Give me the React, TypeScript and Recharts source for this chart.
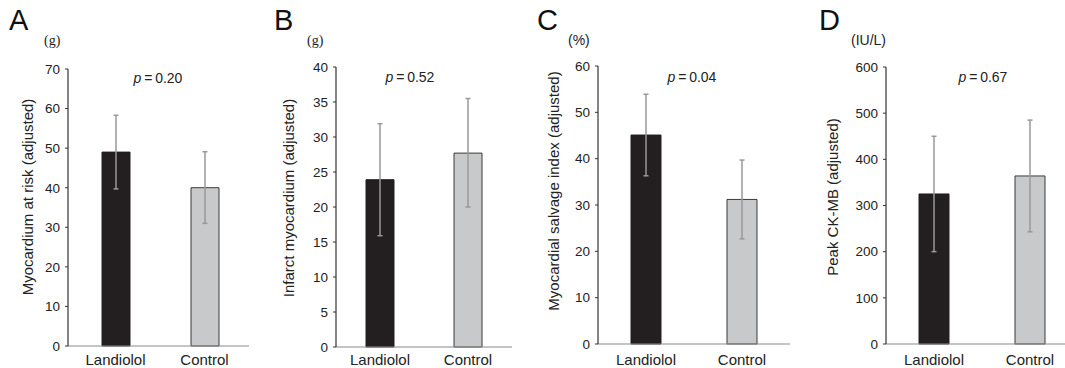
import React from 'react';
import { BarChart, Bar, XAxis, YAxis, ErrorBar, Cell } from 'recharts';

const groups = ['Landiolol', 'Control'];

const riskMean = [49.0, 40.0];
const riskLow = [39.7, 31.0];
const riskHigh = [58.3, 49.1];

const infarctMean = [23.9, 27.7];
const infarctLow = [15.9, 20.0];
const infarctHigh = [31.9, 35.5];

const salvageMean = [45.1, 31.2];
const salvageLow = [36.3, 22.7];
const salvageHigh = [53.9, 39.7];

const ckMean = [325, 364];
const ckLow = [200, 243];
const ckHigh = [450, 485];

const riskTicks = [0, 10, 20, 30, 40, 50, 60, 70];
const infarctTicks = [0, 5, 10, 15, 20, 25, 30, 35, 40];
const salvageTicks = [0, 10, 20, 30, 40, 50, 60];
const ckTicks = [0, 100, 200, 300, 400, 500, 600];

const panelLetters = ['A', 'B', 'C', 'D'];
const units = ['(g)', '(g)', '(%)', '(IU/L)'];
const pValues = ['0.20', '0.52', '0.04', '0.67'];
const yTitles = [
  'Myocardium at risk (adjusted)',
  'Infarct myocardium (adjusted)',
  'Myocardial salvage index (adjusted)',
  'Peak CK-MB (adjusted)',
];

const build = (mean: number[], low: number[], high: number[]) =>
  groups.map((name, i) => ({
    name,
    value: mean[i],
    err: [mean[i] - low[i], high[i] - mean[i]],
  }));

const datasets = [
  build(riskMean, riskLow, riskHigh),
  build(infarctMean, infarctLow, infarctHigh),
  build(salvageMean, salvageLow, salvageHigh),
  build(ckMean, ckLow, ckHigh),
];
const tickSets = [riskTicks, infarctTicks, salvageTicks, ckTicks];

const FONT = '"Liberation Sans", Arial, Helvetica, sans-serif';

// layout (style only)
const layouts = [
  { left: 0, width: 249, yw: 68, top: 69, xh: 22, barSize: 28, padL: 3, titleX: 27, titleY: 197 },
  { left: 260, width: 252, yw: 76, top: 67, xh: 21, barSize: 28, padL: 0, titleX: 28, titleY: 198 },
  { left: 520, width: 270, yw: 78, top: 66, xh: 24, barSize: 30, padL: 0, titleX: 33, titleY: 191 },
  { left: 800, width: 278, yw: 86, top: 67, xh: 24, barSize: 30, padL: 0, titleX: 32, titleY: 197 },
];

const overlayText = [
  { letterX: 9, unitX: 44, unitSerif: true, pX: 158, pY: 83 },
  { letterX: 274, unitX: 307, unitSerif: true, pX: 410, pY: 82 },
  { letterX: 537, unitX: 568, unitSerif: false, pX: 692, pY: 82 },
  { letterX: 819, unitX: 851, unitSerif: false, pX: 983, pY: 82 },
];

const fills = ['#231f20', '#c8c9cb'];
const strokes = ['#231f20', '#3a3a3a'];

const CatTick = (props: any) => {
  const { x, payload } = props;
  return (
    <text x={x} y={365} textAnchor="middle" fontSize={15} fill="#222" fontFamily={FONT}>
      {payload.value}
    </text>
  );
};

function Panel({ idx }: { idx: number }) {
  const L = layouts[idx];
  const data = datasets[idx];
  const ticks = tickSets[idx];
  const max = ticks[ticks.length - 1];
  return (
    <div style={{ position: 'absolute', left: L.left, top: 0, width: L.width, height: 368 }}>
      <BarChart
        width={L.width}
        height={368}
        data={data}
        margin={{ top: L.top, right: 0, left: 0, bottom: 0 }}
      >
        <XAxis
          dataKey="name"
          height={L.xh}
          axisLine={{ stroke: '#8a8a8a', strokeWidth: 1.2 }}
          tickLine={false}
          tick={<CatTick />}
          padding={{ left: L.padL, right: 0 }}
          interval={0}
        />
        <YAxis
          width={L.yw}
          domain={[0, max]}
          ticks={ticks}
          interval={0}
          tickSize={3}
          tickMargin={5}
          axisLine={{ stroke: '#333', strokeWidth: 1.2 }}
          tickLine={{ stroke: '#333' }}
          tick={{ fontSize: 13.5, fill: '#222', fontFamily: FONT }}
          label={{
            content: () => (
              <text
                x={L.titleX}
                y={L.titleY}
                transform={`rotate(-90 ${L.titleX} ${L.titleY})`}
                textAnchor="middle"
                dominantBaseline="central"
                fontSize={15}
                fill="#222"
                fontFamily={FONT}
              >
                {yTitles[idx]}
              </text>
            ),
          }}
        />
        <Bar dataKey="value" barSize={L.barSize} isAnimationActive={false}>
          {data.map((d, i) => (
            <Cell key={d.name} fill={fills[i]} stroke={strokes[i]} strokeWidth={1} />
          ))}
          <ErrorBar dataKey="err" width={2.5} stroke="#999" strokeWidth={1.5} direction="y" />
        </Bar>
      </BarChart>
    </div>
  );
}

export default function App() {
  return (
    <div
      style={{
        position: 'absolute',
        left: 0,
        top: 0,
        width: 1065,
        height: 368,
        overflow: 'hidden',
        background: '#fff',
        fontFamily: FONT,
      }}
    >
      {panelLetters.map((_, i) => (
        <Panel key={i} idx={i} />
      ))}
      <svg
        width={1065}
        height={368}
        style={{ position: 'absolute', left: 0, top: 0, pointerEvents: 'none' }}
      >
        {overlayText.map((o, i) => (
          <g key={i}>
            <text x={o.letterX} y={30} fontSize={29} fill="#111" fontFamily={FONT}>
              {panelLetters[i]}
            </text>
            <text
              x={o.unitX}
              y={45}
              fontSize={14}
              fill="#222"
              fontFamily={o.unitSerif ? '"Liberation Serif", serif' : FONT}
            >
              {units[i]}
            </text>
            <text x={o.pX} y={o.pY} textAnchor="middle" fontSize={14} fill="#222" fontFamily={FONT}>
              <tspan fontStyle="italic">p</tspan>
              {'\u2009=\u2009' + pValues[i]}
            </text>
          </g>
        ))}
      </svg>
    </div>
  );
}
